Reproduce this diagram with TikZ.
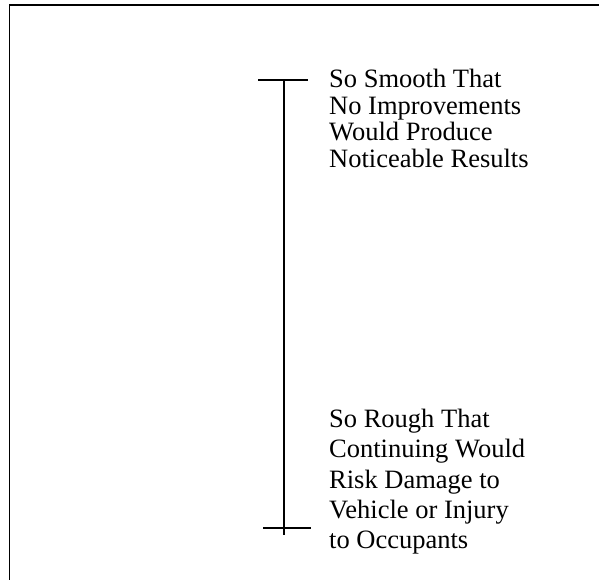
\documentclass[tikz,border=0pt]{standalone}
\usepackage{fontspec}
\setmainfont{Liberation Serif}
\usetikzlibrary{positioning,calc}
\tikzset{frame/.style={line width=1.8pt,draw=black},
  scaleline/.style={line width=1.6pt,draw=black},
  label/.style={align=left,anchor=north west,inner sep=0pt}}
\begin{document}
\begin{tikzpicture}[x=1pt,y=-1pt]
\useasboundingbox (0,0) rectangle (599,580);
\coordinate (cornerTL) at (9.5,5);
\coordinate (cornerTR) at (599,5);
\coordinate (cornerBL) at (9.5,580);
\draw[frame] (cornerTR)--(cornerTL)--(cornerBL);
\coordinate (topend) at (284,80);
\coordinate (botend) at (284,535);
\coordinate (toptickL) at (258,80);\coordinate (toptickR) at (308,80);
\coordinate (bottickL) at (263,528);\coordinate (bottickR) at (311,528);
\draw[scaleline] (topend)--(botend);
\draw[scaleline] (toptickL)--(toptickR);
\draw[scaleline] (bottickL)--(bottickR);
\node[label,font=\fontsize{26.5}{26.6}\selectfont] (smooth) at (329,69)
  {So Smooth That\\No Improvements\\Would Produce\\Noticeable Results};
\node[label,font=\fontsize{26.5}{30.3}\selectfont] (rough) at (329,409)
  {So Rough That\\Continuing Would\\Risk Damage to\\Vehicle or Injury\\to Occupants};
\end{tikzpicture}
\end{document}
